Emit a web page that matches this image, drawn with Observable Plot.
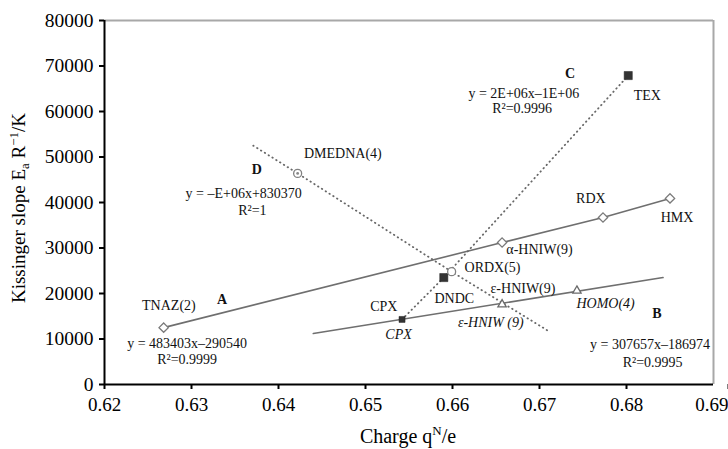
<!DOCTYPE html>
<html>
<head>
<meta charset="utf-8">
<script src="https://cdn.jsdelivr.net/npm/d3@7"></script>
<script src="https://cdn.jsdelivr.net/npm/@observablehq/plot@0.6"></script>
<style>
  html, body { margin: 0; padding: 0; background: #fff; }
  #chart { width: 728px; height: 449px; }
</style>
</head>
<body>
<div id="chart"></div>
<script>
// ---- Data ----
const xTicks = [0.62, 0.63, 0.64, 0.65, 0.66, 0.67, 0.68, 0.69];
const yTicks = [0, 10000, 20000, 30000, 40000, 50000, 60000, 70000, 80000];

// Series A (solid line, open diamonds): TNAZ(2), α-HNIW(9), RDX, HMX
const aNames = ["TNAZ(2)", "α-HNIW(9)", "RDX", "HMX"];
const aX = [0.6268, 0.6657, 0.6773, 0.6850];
const aY = [12500, 31200, 36700, 40900];

// Series B (solid trend line): CPX, ε-HNIW (9), HOMO(4)
const bNames = ["CPX", "ε-HNIW (9)", "HOMO(4)"];
const bX = [0.6542, 0.6657, 0.6743];
const bY = [14300, 17600, 20600];
const bLineX = [0.6440, 0.6842];
const bLineY = [11200, 23500];

// Series C (dotted): CPX, DNDC, TEX
const cNames = ["CPX", "DNDC", "TEX"];
const cX = [0.6542, 0.6590, 0.6802];
const cY = [14300, 23500, 67900];

// Series D (dotted): DMEDNA(4), ORDX(5)
const dNames = ["DMEDNA(4)", "ORDX(5)"];
const dX = [0.6422, 0.6599];
const dY = [46400, 24800];
const dLineX = [0.6371, 0.6422, 0.6599, 0.6709];
const dLineY = [52500, 46400, 24800, 11900];

// Annotation texts (data-coordinate anchors)
const annotations = [
  {t: "C", x: 0.6735, y: 68400, s: "bold"},
  {t: "y = 2E+06x–1E+06", x: 0.6682, y: 64000, s: "plain"},
  {t: "R²=0.9996", x: 0.6680, y: 60700, s: "plain"},
  {t: "TEX", x: 0.6824, y: 63500, s: "plain"},
  {t: "D", x: 0.6375, y: 47300, s: "bold"},
  {t: "DMEDNA(4)", x: 0.6474, y: 50700, s: "plain"},
  {t: "y = –E+06x+830370", x: 0.6360, y: 42000, s: "plain"},
  {t: "R²=1", x: 0.6370, y: 38200, s: "plain"},
  {t: "TNAZ(2)", x: 0.6274, y: 17400, s: "plain"},
  {t: "A", x: 0.6335, y: 18700, s: "bold"},
  {t: "y = 483403x–290540", x: 0.6295, y: 9100, s: "plain"},
  {t: "R²=0.9999", x: 0.6295, y: 5400, s: "plain"},
  {t: "CPX", x: 0.6521, y: 17100, s: "plain"},
  {t: "α-HNIW(9)", x: 0.6700, y: 29600, s: "plain"},
  {t: "ORDX(5)", x: 0.6646, y: 25800, s: "plain"},
  {t: "ε-HNIW(9)", x: 0.6681, y: 21200, s: "plain"},
  {t: "DNDC", x: 0.6602, y: 18800, s: "plain"},
  {t: "ε-HNIW (9)", x: 0.6644, y: 13700, s: "italic"},
  {t: "CPX", x: 0.6538, y: 11000, s: "italic"},
  {t: "RDX", x: 0.6759, y: 40800, s: "plain"},
  {t: "HMX", x: 0.6858, y: 36800, s: "plain"},
  {t: "HOMO(4)", x: 0.6776, y: 17900, s: "italic"},
  {t: "B", x: 0.6835, y: 15500, s: "bold"},
  {t: "y = 307657x–186974", x: 0.6827, y: 8800, s: "plain"},
  {t: "R²=0.9995", x: 0.6830, y: 4900, s: "plain"}
];

// ---- Build tables ----
const ptsA = aX.map((x, i) => ({x, y: aY[i], name: aNames[i]}));
const ptsB = bX.map((x, i) => ({x, y: bY[i], name: bNames[i]}));
const lineB = bLineX.map((x, i) => ({x, y: bLineY[i]}));
const ptsC = cX.map((x, i) => ({x, y: cY[i], name: cNames[i]}));
const ptsD = dX.map((x, i) => ({x, y: dY[i], name: dNames[i]}));
const lineD = dLineX.map((x, i) => ({x, y: dLineY[i]}));

const FONT = "'Liberation Serif', 'Times New Roman', serif";
const lineGray = "#6f6f6f";
const dotGray = "#686868";

const axisXOpts = {tickFormat: d => d.toFixed(2), tickSize: 5, tickPadding: 8, label: null, fontSize: 19, strokeWidth: 2, stroke: "#000"};

const plot = Plot.plot({
  width: 728,
  height: 449,
  marginLeft: 104,
  marginRight: 15,
  marginTop: 20,
  marginBottom: 65,
  x: {domain: [0.62, 0.69]},
  y: {domain: [0, 80000]},
  style: {fontFamily: FONT, fontSize: "19px", color: "#000", background: "#fff"},
  marks: [
    Plot.ruleY([80000], {stroke: "#a8a8a8", strokeWidth: 2}),
    Plot.ruleX([0.69], {stroke: "#a8a8a8", strokeWidth: 2}),
    Plot.axisX({...axisXOpts, ticks: xTicks.slice(0, -1)}),
    Plot.axisX({...axisXOpts, ticks: xTicks.slice(-1), textAnchor: "end", dx: 15}),
    Plot.axisY({ticks: yTicks, tickFormat: d => String(d), tickSize: 5, tickPadding: 6, label: null, fontSize: 19.5, strokeWidth: 2, stroke: "#000"}),
    Plot.ruleX([0.62], {stroke: "#000", strokeWidth: 2}),
    Plot.ruleY([0], {stroke: "#000", strokeWidth: 2}),
    // Trend lines
    Plot.line(ptsA, {x: "x", y: "y", stroke: lineGray, strokeWidth: 1.6}),
    Plot.line(lineB, {x: "x", y: "y", stroke: lineGray, strokeWidth: 1.6}),
    Plot.line(ptsC, {x: "x", y: "y", stroke: dotGray, strokeWidth: 1.8, strokeDasharray: "0.5 4", strokeLinecap: "round"}),
    Plot.line(lineD, {x: "x", y: "y", stroke: dotGray, strokeWidth: 1.8, strokeDasharray: "0.5 4", strokeLinecap: "round"}),
    // Markers
    Plot.dot(ptsA, {x: "x", y: "y", symbol: "diamond2", r: 4.2, stroke: "#7a7a7a", fill: "#fff", strokeWidth: 1.3}),
    Plot.dot(ptsB.slice(1), {x: "x", y: "y", symbol: "triangle2", r: 4, stroke: "#6a6a6a", fill: "#fff", strokeWidth: 1.3}),
    Plot.dot(ptsC.slice(0, 1), {x: "x", y: "y", symbol: "square", r: 3.4, fill: "#333", stroke: "#222", strokeWidth: 0.5}),
    Plot.dot(ptsC.slice(1), {x: "x", y: "y", symbol: "square", r: 4.6, fill: "#333", stroke: "#222", strokeWidth: 0.5}),
    Plot.dot(ptsD, {x: "x", y: "y", symbol: "circle", r: 4, stroke: "#808080", fill: "#fff", strokeWidth: 1.3}),
    Plot.dot(ptsD.slice(0, 1), {x: "x", y: "y", symbol: "circle", r: 1.4, fill: "#888"}),
    // Annotations
    Plot.text(annotations.filter(d => d.s === "plain"), {x: "x", y: "y", text: "t", fontSize: 14, fill: "#111", textAnchor: "middle", lineAnchor: "middle"}),
    Plot.text(annotations.filter(d => d.s === "italic"), {x: "x", y: "y", text: "t", fontSize: 14, fill: "#111", fontStyle: "italic", textAnchor: "middle", lineAnchor: "middle"}),
    Plot.text(annotations.filter(d => d.s === "bold"), {x: "x", y: "y", text: "t", fontSize: 14, fill: "#111", fontWeight: "bold", textAnchor: "middle", lineAnchor: "middle"})
  ]
});

document.getElementById("chart").appendChild(plot);

// Axis titles with sub/superscripts
const svg = d3.select(plot);
const xt = svg.append("text")
  .attr("x", 408).attr("y", 443)
  .attr("text-anchor", "middle")
  .style("font-family", FONT).style("font-size", "20px").attr("fill", "#000");
xt.append("tspan").text("Charge q");
xt.append("tspan").attr("dy", -8).style("font-size", "13px").text("N");
xt.append("tspan").attr("dy", 8).text("/e");

const yt = svg.append("text")
  .attr("transform", "translate(25,208) rotate(-90)")
  .attr("text-anchor", "middle")
  .style("font-family", FONT).style("font-size", "19px").attr("fill", "#000");
yt.append("tspan").text("Kissinger slope E");
yt.append("tspan").attr("dy", 4).style("font-size", "13px").text("a");
yt.append("tspan").attr("dy", -4).text(" R");
yt.append("tspan").attr("dy", -7).style("font-size", "13px").text("−1");
yt.append("tspan").attr("dy", 7).text("/K");
</script>
</body>
</html>
